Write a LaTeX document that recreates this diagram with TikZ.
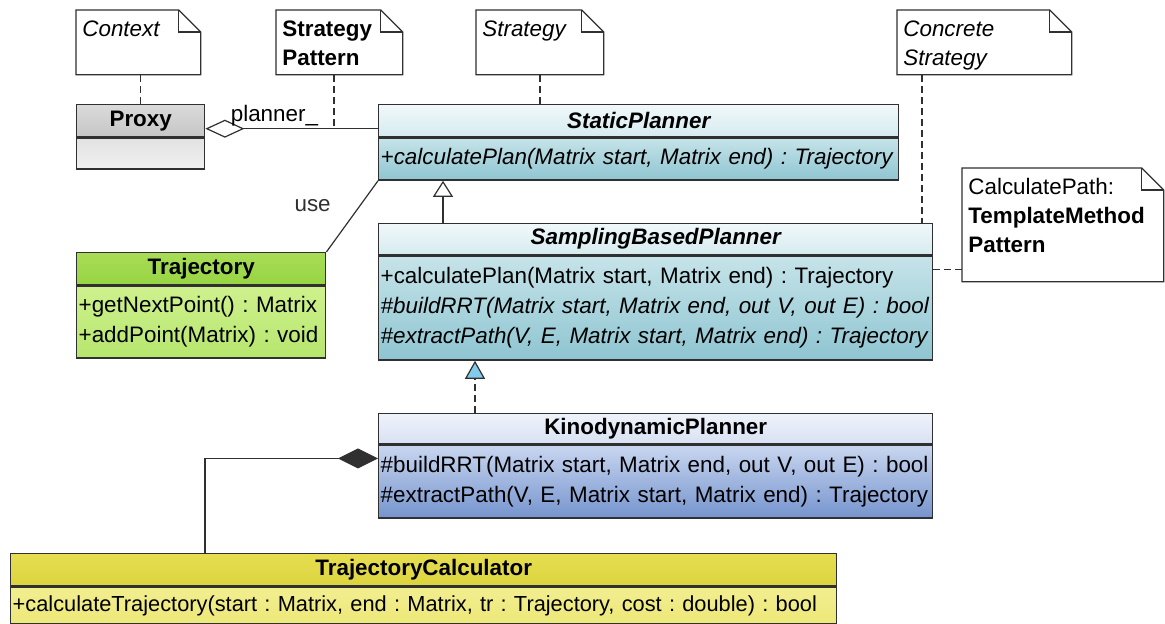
\documentclass[tikz,border=0pt]{standalone}
\usepackage{fontspec}
\setmainfont{Liberation Sans}
\usetikzlibrary{positioning,arrows.meta}
\frenchspacing

\definecolor{linegray}{HTML}{303030}
\definecolor{triblue}{HTML}{84CBEB}
% header / body shades, top and bottom
\definecolor{prxhtop}{HTML}{DADADA}
\definecolor{prxhbot}{HTML}{C6C6C6}
\definecolor{prxbtop}{HTML}{E2E2E2}
\definecolor{prxbbot}{HTML}{F0F0F0}
\definecolor{plnhtop}{HTML}{F0F8FA}
\definecolor{plnhbot}{HTML}{D6EBEF}
\definecolor{plnbtop}{HTML}{C6E3E9}
\definecolor{plnbbot}{HTML}{8EC5D1}
\definecolor{kinhtop}{HTML}{EEF2FA}
\definecolor{kinhbot}{HTML}{D8E1F3}
\definecolor{kinbtop}{HTML}{C9D6EF}
\definecolor{kinbbot}{HTML}{7594CE}
\definecolor{trjhtop}{HTML}{A8DD55}
\definecolor{trjhbot}{HTML}{98D444}
\definecolor{trjbtop}{HTML}{CFF18E}
\definecolor{trjbbot}{HTML}{B6E66E}
\definecolor{calhtop}{HTML}{E6DE50}
\definecolor{calhbot}{HTML}{DCD43E}
\definecolor{calbtop}{HTML}{F2EE90}
\definecolor{calbbot}{HTML}{EDE878}

\begin{document}
\begin{tikzpicture}[
  x=0.5pt, y=-0.5pt,
  font=\fontsize{11.2}{15}\selectfont,
  classhead/.style={draw=linegray, line width=0.7pt, anchor=north west, inner sep=1pt, font=\fontsize{11.2}{15}\selectfont\bfseries},
  classbody/.style={draw=linegray, line width=0.7pt, align=left, inner xsep=1pt, inner ysep=1pt},
  note/.style={anchor=north west, align=left, inner sep=3pt, text height=10pt, font=\fontsize{11.2}{14.5}\selectfont},
  noteline/.style={draw=linegray, line width=0.6pt},
  notelink/.style={draw=linegray, line width=0.6pt, dash pattern=on 3.5pt off 2pt},
  assoc/.style={draw=linegray, line width=0.6pt},
]
\useasboundingbox (0,0) rectangle (1165,624);

% notes
\node[note, text width=56pt, text depth=16pt] (ctx) at (76,10) {\itshape Context};
\node[note, text width=57pt, text depth=16pt] (pat) at (276,10) {\bfseries Strategy\\Pattern};
\node[note, text width=57.5pt, text depth=16pt] (strat) at (476,10) {\itshape Strategy};
\node[note, text width=81pt, text depth=16pt] (conc) at (897,10) {\itshape Concrete\\Strategy};
\node[note, text width=94.5pt, text depth=40.5pt] (tmpl) at (962,168) {CalculatePath:\\\textbf{TemplateMethod}\\\textbf{Pattern}};

\foreach \n in {ctx,pat,strat,conc,tmpl}{
  \draw[noteline] (\n.south west) -- (\n.north west) -- ([xshift=-11pt]\n.north east)
    -- ([yshift=-11pt]\n.north east) -- (\n.south east) -- cycle;
  \draw[noteline] ([xshift=-11pt]\n.north east) |- ([yshift=-11pt]\n.north east);
}

% classes
\node[classhead, minimum width=64pt, minimum height=16pt, top color=prxhtop, bottom color=prxhbot] (prx) at (76,104) {Proxy};
\node[classbody, below=0pt of prx, text width=62pt, minimum height=15.5pt, top color=prxbtop, bottom color=prxbbot] (prxb) {};

\node[classhead, minimum width=260pt, minimum height=16pt, top color=plnhtop, bottom color=plnhbot] (sph) at (378,104) {\itshape StaticPlanner};
\node[classbody, below=0pt of sph, text width=258pt, minimum height=21pt, top color=plnbtop, bottom color=plnbbot] (spb)
  {\itshape +calculatePlan(Matrix start, Matrix end) : Trajectory};

\node[classhead, minimum width=277pt, minimum height=15.5pt, top color=plnhtop, bottom color=plnhbot] (sbph) at (378,223) {\itshape SamplingBasedPlanner};
\node[classbody, below=0pt of sbph, text width=275pt, minimum height=52pt, top color=plnbtop, bottom color=plnbbot] (sbpb)
  {+calculatePlan(Matrix start, Matrix end) : Trajectory\\
   \itshape \#buildRRT(Matrix start, Matrix end, out V, out E) : bool\\
   \itshape \#extractPath(V, E, Matrix start, Matrix end) : Trajectory};

\node[classhead, minimum width=277pt, minimum height=15pt, top color=kinhtop, bottom color=kinhbot] (kph) at (378,413) {KinodynamicPlanner};
\node[classbody, below=0pt of kph, text width=275pt, minimum height=36.5pt, top color=kinbtop, bottom color=kinbbot] (kpb)
  {\#buildRRT(Matrix start, Matrix end, out V, out E) : bool\\
   \#extractPath(V, E, Matrix start, Matrix end) : Trajectory};

\node[classhead, minimum width=124.5pt, minimum height=16pt, top color=trjhtop, bottom color=trjhbot] (trh) at (76,252) {Trajectory};
\node[classbody, below=0pt of trh, text width=122.5pt, minimum height=36pt, top color=trjbtop, bottom color=trjbbot] (trb)
  {+getNextPoint() : Matrix\\+addPoint(Matrix) : void};

\node[classhead, minimum width=413pt, minimum height=16pt, top color=calhtop, bottom color=calhbot] (tch) at (10,553) {TrajectoryCalculator};
\node[classbody, below=0pt of tch, text width=411pt, minimum height=18.5pt, top color=calbtop, bottom color=calbbot, font=\fontsize{10.9}{15}\selectfont] (tcb)
  {+calculateTrajectory(start : Matrix, end : Matrix, tr : Trajectory, cost : double) : bool};

% note links
\coordinate (asc) at ([yshift=-4pt]prx.east);
\draw[notelink] (prx.north |- ctx.south) -- (prx.north);
\draw[notelink] ([xshift=29pt]pat.south west) -- ([xshift=29pt]pat.south west |- asc);
\draw[notelink] (strat.south) -- (strat.south |- sph.north);
\draw[notelink] ([xshift=12.5pt]conc.south west) -- ([xshift=12.5pt]conc.south west |- sbph.north);
\draw[notelink] ([yshift=-7pt]sbpb.north east) -- ([yshift=-7pt]sbpb.north east -| tmpl.west);

% relations
\draw[assoc, {Diamond[open, length=19.5pt, width=9pt]}-] (asc) -- (asc -| sph.west)
  node[pos=0.4, above, inner sep=1pt] {planner\_};
\draw[assoc] (trh.north east) -- (spb.south west)
  node[pos=0.65, anchor=east, xshift=-11pt, text=linegray] {use};
\draw[assoc, -{Triangle[open, length=8pt, width=10pt]}] ([xshift=32.5pt]sbph.north west) -- ([xshift=32.5pt]sbph.north west |- spb.south);
\draw[notelink, -{Triangle[length=9pt, width=10pt, fill=triblue]}] ([xshift=48.5pt]kph.north west) -- ([xshift=48.5pt]kph.north west |- sbpb.south);
\draw[assoc, {Diamond[length=20pt, width=10pt]}-] ([yshift=-7pt]kpb.north west) -| ([xshift=97.5pt]tch.north west);

\end{tikzpicture}
\end{document}
